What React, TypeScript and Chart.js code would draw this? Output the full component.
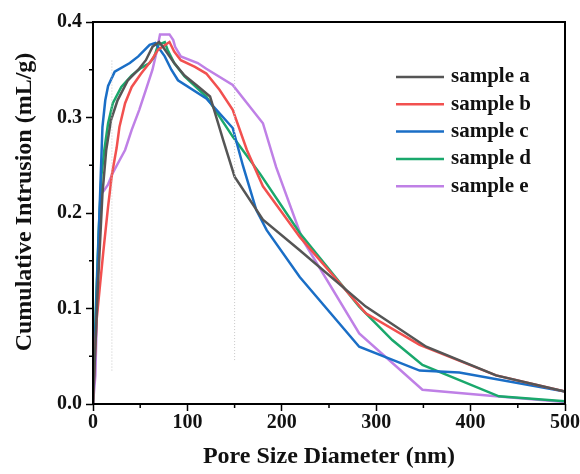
import React, { useEffect, useRef } from "react";
import { Chart, registerables } from "chart.js";

Chart.register(...registerables);

const seriesLabels = ["sample a", "sample b", "sample c", "sample d", "sample e"];
const seriesColors = ["#555555", "#f2504f", "#1a6ec6", "#1aa86c", "#bf80e6"];

const sampleA: [number, number][] = [
  [0, 0], [5, 0.12], [10, 0.22], [14, 0.266], [19, 0.297], [26, 0.318], [37, 0.339], [48, 0.35],
  [56, 0.36], [63, 0.374], [70, 0.379], [74, 0.374], [86, 0.357], [97, 0.344], [112, 0.332],
  [124, 0.322], [138, 0.276], [150, 0.238], [180, 0.193], [219, 0.161], [289, 0.102],
  [353, 0.06], [427, 0.03], [500, 0.013],
];
const sampleB: [number, number][] = [
  [0, 0], [2, 0.05], [4, 0.09], [7, 0.12], [11, 0.16], [16, 0.207], [20, 0.24], [25, 0.268],
  [28, 0.29], [34, 0.315], [41, 0.332], [51, 0.346], [62, 0.36], [69, 0.371], [81, 0.379],
  [86, 0.369], [93, 0.36], [108, 0.353], [120, 0.346], [134, 0.329], [148, 0.308], [163, 0.266],
  [180, 0.228], [219, 0.175], [289, 0.095], [346, 0.062], [427, 0.03], [500, 0.013],
];
const sampleC: [number, number][] = [
  [0, 0], [4, 0.12], [10, 0.29], [13, 0.318], [16, 0.333], [23, 0.348], [39, 0.357], [48, 0.364],
  [60, 0.376], [66, 0.378], [76, 0.364], [83, 0.35], [90, 0.339], [120, 0.32], [148, 0.289],
  [159, 0.249], [173, 0.203], [184, 0.182], [219, 0.133], [282, 0.06], [346, 0.035],
  [388, 0.033], [500, 0.013],
];
const sampleD: [number, number][] = [
  [0, 0], [3, 0.1], [6, 0.18], [9, 0.24], [12, 0.266], [16, 0.294], [21, 0.315], [30, 0.332],
  [41, 0.344], [51, 0.352], [60, 0.357], [65, 0.364], [69, 0.376], [76, 0.379], [79, 0.371],
  [86, 0.357], [97, 0.343], [120, 0.322], [148, 0.28], [177, 0.241], [219, 0.179], [282, 0.102],
  [317, 0.067], [349, 0.041], [430, 0.008], [500, 0.003],
];
const sampleE: [number, number][] = [
  [0, 0], [2.5, 0.03], [5, 0.13], [8, 0.219], [12, 0.224], [16, 0.23], [21, 0.242], [28, 0.255],
  [34, 0.266], [41, 0.287], [49, 0.308], [56, 0.329], [63, 0.35], [67, 0.367], [71, 0.387],
  [81, 0.387], [85, 0.381], [87, 0.374], [93, 0.364], [111, 0.357], [120, 0.351], [148, 0.334],
  [180, 0.294], [194, 0.248], [222, 0.172], [282, 0.074], [349, 0.015], [427, 0.008], [500, 0.002],
];

const refLineX = [20, 150];
const refLineYLow = [0.035, 0.046];
const refLineYHigh = [0.36, 0.37];

const xTicks = [0, 100, 200, 300, 400, 500];
const yTicks = [0.0, 0.1, 0.2, 0.3, 0.4];

const yTitle = "Cumulative Intrusion (mL/g)";
const xTitle = "Pore Size Diameter (nm)";

const FONT = "'Liberation Serif', 'Times New Roman', serif";

const framePlugin = {
  id: "frameAndMinor",
  afterDraw(chart: any) {
    const { ctx, chartArea } = chart;
    const xs = chart.scales.x;
    const ys = chart.scales.y;
    ctx.save();
    ctx.strokeStyle = "#000";
    ctx.lineWidth = 2;
    ctx.strokeRect(chartArea.left, chartArea.top, chartArea.right - chartArea.left, chartArea.bottom - chartArea.top);
    ctx.lineWidth = 1.5;
    for (let i = 0; i < xTicks.length - 1; i++) {
      const v = (xTicks[i] + xTicks[i + 1]) / 2;
      const px = xs.getPixelForValue(v);
      ctx.beginPath();
      ctx.moveTo(px, chartArea.bottom);
      ctx.lineTo(px, chartArea.bottom + 4);
      ctx.stroke();
    }
    for (let i = 0; i < yTicks.length - 1; i++) {
      const v = (yTicks[i] + yTicks[i + 1]) / 2;
      const py = ys.getPixelForValue(v);
      ctx.beginPath();
      ctx.moveTo(chartArea.left, py);
      ctx.lineTo(chartArea.left - 4, py);
      ctx.stroke();
    }
    // y title
    ctx.save();
    ctx.translate(25, 202);
    ctx.rotate(-Math.PI / 2);
    ctx.font = `bold 24px ${FONT}`;
    ctx.fillStyle = "#111";
    ctx.textAlign = "center";
    ctx.textBaseline = "middle";
    ctx.fillText(yTitle, 0, 0);
    ctx.restore();
    // legend
    const lx0 = 396, lx1 = 444, tx = 451;
    let ly = 77;
    ctx.font = `bold 21px ${FONT}`;
    ctx.textBaseline = "middle";
    ctx.textAlign = "left";
    for (let i = 0; i < seriesLabels.length; i++) {
      ctx.strokeStyle = seriesColors[i];
      ctx.lineWidth = 2.5;
      ctx.beginPath();
      ctx.moveTo(lx0, ly);
      ctx.lineTo(lx1, ly);
      ctx.stroke();
      ctx.fillStyle = "#111";
      ctx.fillText(seriesLabels[i], tx, ly);
      ly += 27.3;
    }
    ctx.restore();
  },
};

export default function App() {
  const ref = useRef<HTMLCanvasElement>(null);
  useEffect(() => {
    if (!ref.current) return;
    const series = [sampleA, sampleB, sampleC, sampleD, sampleE];
    const datasets: any[] = series.map((s, i) => ({
      label: seriesLabels[i],
      data: s.map(([x, y]) => ({ x, y })),
      borderColor: seriesColors[i],
      backgroundColor: seriesColors[i],
      borderWidth: 2.5,
      pointRadius: 0,
      tension: 0,
      fill: false,
    }));
    refLineX.forEach((x, i) => {
      datasets.unshift({
        label: "ref" + i,
        data: [{ x, y: refLineYLow[i] }, { x, y: refLineYHigh[i] }],
        borderColor: "#c8c8c8",
        borderWidth: 1,
        borderDash: [1, 2],
        pointRadius: 0,
        fill: false,
      });
    });
    const chart = new Chart(ref.current, {
      type: "line",
      data: { datasets },
      plugins: [framePlugin],
      options: {
        animation: false,
        responsive: true,
        maintainAspectRatio: false,
        layout: { padding: { top: 22, right: 14, left: 0, bottom: 0 } },
        plugins: { legend: { display: false }, tooltip: { enabled: false } },
        scales: {
          x: {
            type: "linear",
            min: 0,
            max: 500,
            afterFit: (s: any) => { s.height = 70; },
            afterBuildTicks: (s: any) => { s.ticks = xTicks.map((v) => ({ value: v })); },
            ticks: {
              color: "#111",
              font: { family: FONT, size: 20, weight: "bold" },
              padding: 0,
              maxRotation: 0,
              callback: (v: any) => String(v),
            },
            grid: { drawOnChartArea: false, tickLength: 7, color: "#000", tickWidth: 1.5 },
            border: { display: false },
            title: {
              display: true,
              text: xTitle,
              color: "#111",
              font: { family: FONT, size: 24, weight: "bold" },
              padding: { top: 0, bottom: 2.6 },
            },
          },
          y: {
            type: "linear",
            min: 0,
            max: 0.4,
            afterFit: (s: any) => { s.width = 93; },
            afterBuildTicks: (s: any) => { s.ticks = yTicks.map((v) => ({ value: v })); },
            ticks: {
              color: "#111",
              font: { family: FONT, size: 20, weight: "bold" },
              padding: 4,
              callback: (v: any) => Number(v).toFixed(1),
            },
            grid: { drawOnChartArea: false, tickLength: 7, color: "#000", tickWidth: 1.5 },
            border: { display: false },
            title: { display: false },
          },
        },
      },
    });
    return () => chart.destroy();
  }, []);
  return (
    <div style={{ position: "absolute", left: 0, top: 0, width: 580, height: 474, background: "#fff" }}>
      <canvas ref={ref} />
    </div>
  );
}
